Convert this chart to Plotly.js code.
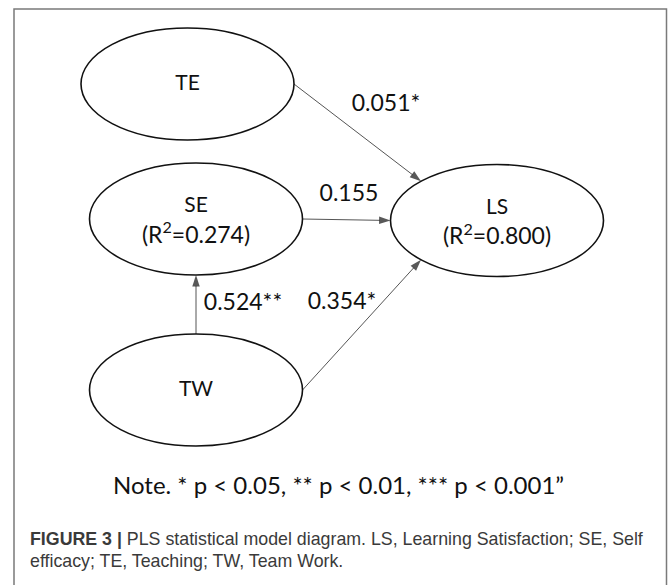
<!DOCTYPE html>
<html>
<head>
<meta charset="utf-8">
<script src="https://cdn.plot.ly/plotly-3.0.1.min.js"></script>
<style>html,body{margin:0;padding:0;background:#fff;}#chart{width:669px;height:585px;}</style>
</head>
<body>
<div id="chart"></div>
<script>
// ---- data ----
const nodes = ['TE', 'SE', 'LS', 'TW'];
const nodeR2 = [null, 0.274, 0.800, null];
const pathFrom = ['TE', 'SE', 'TW', 'TW'];
const pathTo = ['LS', 'LS', 'LS', 'SE'];
const pathCoef = [0.051, 0.155, 0.354, 0.524];
const pathSig = ['*', '', '*', '**'];
const noteText = 'Note. * p < 0.05, ** p < 0.01, *** p < 0.001\u201d';
const captionBold = 'FIGURE 3 |';
const captionLine1 = ' PLS statistical model diagram. LS, Learning Satisfaction; SE, Self';
const captionLine2 = 'efficacy; TE, Teaching; TW, Team Work.';

// ---- layout config (positions / styles) ----
const nodeCenter = {TE: [187.5, 84], SE: [196, 219], LS: [497, 220.5], TW: [196, 390]};
const RX = 106.5, RY = 56;
// port angles (deg, screen coords) for start / end of each path
const portStart = [0, 0, 0, 270];
const portEnd = [224.5, 180, 135.5, 90];
const labelPos = [[386, 105], [349, 195], [342, 303], [243, 304]];

function port(name, deg) {
  const c = nodeCenter[name], t = deg * Math.PI / 180;
  return [c[0] + RX * Math.cos(t), c[1] + RY * Math.sin(t)];
}

const TEXTFONT = 'Lato, Carlito, "Open Sans", sans-serif';
const CAPFONT = '"Liberation Sans", Arial, sans-serif';

const shapes = [];
// outer frame
shapes.push({type: 'rect', xref: 'x', yref: 'y', x0: 14, x1: 666.5, y0: 9, y1: 600,
  line: {color: '#7a7a7a', width: 1.5}, fillcolor: 'rgba(0,0,0,0)'});
nodes.forEach(n => {
  const c = nodeCenter[n];
  shapes.push({type: 'circle', xref: 'x', yref: 'y', x0: c[0] - RX, x1: c[0] + RX, y0: c[1] - RY, y1: c[1] + RY,
    line: {color: '#111', width: 1.6}, fillcolor: 'rgba(0,0,0,0)'});
});

const data = [];
// path arrows
pathFrom.forEach((f, i) => {
  const s = port(f, portStart[i]);
  const e = port(pathTo[i], portEnd[i]);
  data.push({type: 'scatter', mode: 'lines+markers', x: [s[0], e[0]], y: [s[1], e[1]],
    line: {color: '#555', width: 1},
    marker: {symbol: 'arrow', size: [0, 12], angleref: 'previous', color: '#111', line: {width: 0}},
    hoverinfo: 'skip', showlegend: false, cliponaxis: false});
});

// node labels
const nlx = [], nly = [], nlt = [];
nodes.forEach((n, i) => {
  const c = nodeCenter[n];
  nlx.push(c[0]);
  nly.push(nodeR2[i] === null ? c[1] + 1 : c[1] - 12);
  nlt.push(n);
});
const r2x = [], r2y = [], r2t = [];
nodes.forEach((n, i) => {
  if (nodeR2[i] !== null) {
    const c = nodeCenter[n];
    r2x.push(c[0]); r2y.push(c[1] + 18);
    r2t.push('(R<sup>2</sup>=' + nodeR2[i].toFixed(3) + ')');
  }
});

data.push(
  {type: 'scatter', mode: 'text', x: nlx, y: nly, text: nlt, textposition: 'middle center',
   textfont: {family: TEXTFONT, size: 21, color: '#111'}, hoverinfo: 'skip', showlegend: false},
  {type: 'scatter', mode: 'text', x: r2x, y: r2y, text: r2t, textposition: 'middle center',
   textfont: {family: TEXTFONT, size: 23, color: '#111'}, hoverinfo: 'skip', showlegend: false},
  {type: 'scatter', mode: 'text', x: labelPos.map(p => p[0]), y: labelPos.map(p => p[1]),
   text: pathCoef.map((v, i) => v.toFixed(3) + pathSig[i]), textposition: 'middle center',
   textfont: {family: TEXTFONT, size: 23, color: '#111'}, hoverinfo: 'skip', showlegend: false}
);

const annotations = [];
annotations.push({x: 338, y: 484, xref: 'x', yref: 'y', text: noteText, showarrow: false,
  xanchor: 'center', yanchor: 'middle', font: {family: TEXTFONT, size: 24, color: '#111'}});
annotations.push({x: 28, y: 538.5, xref: 'x', yref: 'y', showarrow: false, xanchor: 'left', yanchor: 'middle',
  text: '<b>' + captionBold + '</b>' + captionLine1,
  font: {family: CAPFONT, size: 17.8, color: '#3a3a3a'}});
annotations.push({x: 28, y: 560.5, xref: 'x', yref: 'y', showarrow: false, xanchor: 'left', yanchor: 'middle',
  text: captionLine2,
  font: {family: CAPFONT, size: 17.8, color: '#3a3a3a'}});

const layout = {
  width: 669, height: 585,
  margin: {l: 0, r: 0, t: 0, b: 0},
  paper_bgcolor: '#fff', plot_bgcolor: '#fff',
  xaxis: {range: [0, 669], visible: false, fixedrange: true},
  yaxis: {range: [585, 0], visible: false, fixedrange: true},
  shapes: shapes, annotations: annotations, showlegend: false
};
Plotly.newPlot('chart', data, layout, {staticPlot: true, displayModeBar: false});
</script>
</body>
</html>
